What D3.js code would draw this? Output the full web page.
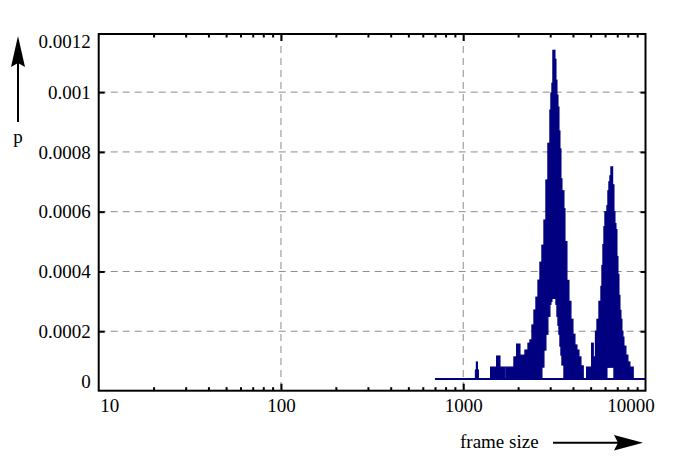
<!DOCTYPE html>
<html>
<head>
<meta charset="utf-8">
<script src="https://cdn.jsdelivr.net/npm/d3@7"></script>
<style>
  html, body { margin: 0; padding: 0; background: #fff; }
  svg { display: block; }
  text { font-family: "Liberation Serif", "DejaVu Serif", serif; }
</style>
</head>
<body>
<svg id="chart" width="698" height="461"></svg>
<script>
// ---- data ----
// frame-size bin edges (bytes); bin i spans binEdges[i] .. binEdges[i+1]
const binEdges = [1167, 1181, 1196, 1211, 1413, 1525, 1590, 1693, 1715, 1897,
  1963, 2047, 2180, 2265, 2322, 2382, 2443, 2505, 2570, 2635,
  2702, 2772, 2842, 2914, 2989, 3027, 3066, 3104, 3184, 3225,
  3266, 3308, 3350, 3392, 3435, 3479, 3568, 3614, 3706, 3801,
  3898, 3998, 4100, 4205, 4313, 4423, 4553, 4753, 5064, 5168,
  5314, 5415, 5553, 5694, 5767, 5840, 5915, 5990, 6066, 6143,
  6220, 6299, 6379, 6460, 6600, 6711, 6796, 6883, 6968, 7057,
  7147, 7237, 7330, 7421, 7516, 7611, 7806, 8005, 8210, 8561];
// upper envelope of p in each bin
const pHigh = [0.00007, 0.000097, 0.00007, 0.00004, 0.00008, 0.000117, 0.00008, 0.00004, 0.00008, 0.000114,
  0.000157, 0.00012, 0.000137, 0.00016, 0.000171, 0.000221, 0.000271, 0.000314, 0.000371, 0.000431,
  0.000488, 0.000572, 0.000706, 0.000829, 0.00094, 0.000997, 0.00103, 0.00114, 0.00111, 0.00104,
  0.00099, 0.00095, 0.00087, 0.00081, 0.00071, 0.00067, 0.00061, 0.0005, 0.00037, 0.0003,
  0.00024, 0.00019, 0.000154, 0.000137, 0.000114, 0.000084, 0.00004, 0.00008, 0.00016, 0.000114,
  0.0002, 0.00024, 0.0003, 0.00035, 0.00042, 0.00049, 0.00055, 0.0006, 0.0006, 0.00062,
  0.00067, 0.0007, 0.00072, 0.00075, 0.00069, 0.0006, 0.00056, 0.00054, 0.00045, 0.00039,
  0.00032, 0.00027, 0.00024, 0.0002, 0.00018, 0.00015, 0.00012, 0.000097, 0.00008];
// lower envelope of p in each bin
const pLow = [0.00004, 0.00004, 0.00004, 0.00004, 0.00004, 0.00004, 0.00004, 0.00004, 0.00004, 0.00004,
  0.00004, 0.00004, 0.00004, 0.00004, 0.00004, 0.00004, 0.00004, 0.00004, 0.00004, 0.00004,
  0.00008, 0.000137, 0.00019, 0.00025, 0.00029, 0.0003, 0.00031, 0.00031, 0.00031, 0.00029,
  0.00025, 0.00022, 0.00019, 0.00015, 0.00012, 0.000087, 0.00004, 0.00004, 0.00004, 0.00004,
  0.00004, 0.00004, 0.00004, 0.00004, 0.00004, 0.00004, 0.00004, 0.00004, 0.00004, 0.00004,
  0.00004, 0.00004, 0.00004, 0.00004, 0.00004, 0.00004, 0.00004, 0.00004, 0.00004, 0.00008,
  0.00008, 0.00008, 0.00008, 0.00008, 0.00008, 0.00004, 0.00004, 0.00004, 0.00004, 0.00004,
  0.00004, 0.00004, 0.00004, 0.00004, 0.00004, 0.00004, 0.00004, 0.00004, 0.00004];
// floor level (single occurrence) spanning the observed frame sizes
const floorP = 0.00004;
const floorRange = [700, 10000];

const xMajorTicks = [10, 100, 1000, 10000];
const xTickLabels = ["10", "100", "1000", "10000"];
const xMinorTicks = [20,30,40,50,60,70,80,90,200,300,400,500,600,700,800,900,
  2000,3000,4000,5000,6000,7000,8000,9000];
const xGridTicks = [100, 1000];
const yTicks = [0, 0.0002, 0.0004, 0.0006, 0.0008, 0.001, 0.0012];
const yTickLabels = ["0", "0.0002", "0.0004", "0.0006", "0.0008", "0.001", "0.0012"];
const yGridTicks = [0.0002, 0.0004, 0.0006, 0.0008, 0.001];
const xLabel = "frame size";
const yLabel = "p";

// ---- layout ----
const L = 98.7, R = 645.5, T = 34, B = 390.7;
const svg = d3.select("#chart");
const x = d3.scaleLog().domain([10, 10000]).range([L, R]);
const y = d3.scaleLinear().domain([0, 0.0011946]).range([391, T]);
const navy = "#000080";
const fontSize = 19;

// grid
svg.append("g").selectAll("line.gx").data(xGridTicks).join("line")
  .attr("x1", d => x(d)).attr("x2", d => x(d)).attr("y1", T).attr("y2", B)
  .attr("stroke", "#8c8c8c").attr("stroke-width", 1).attr("stroke-dasharray", "7,5");
svg.append("g").selectAll("line.gy").data(yGridTicks).join("line")
  .attr("x1", L).attr("x2", R).attr("y1", d => y(d)).attr("y2", d => y(d))
  .attr("stroke", "#8c8c8c").attr("stroke-width", 1).attr("stroke-dasharray", "7,5");

// data
svg.append("clipPath").attr("id", "clip").append("rect")
  .attr("x", L).attr("y", T).attr("width", R - L).attr("height", B - T);
const plot = svg.append("g").attr("clip-path", "url(#clip)");
plot.append("path")
  .attr("d", d3.line().x(d => x(d)).y(() => y(floorP))(floorRange))
  .attr("stroke", navy).attr("stroke-width", 2).attr("fill", "none");
const bins = pHigh.map((h, i) => ({ x0: binEdges[i], x1: binEdges[i + 1], hi: h, lo: pLow[i] }))
  .filter(b => b.hi > b.lo);
plot.selectAll("rect.bin").data(bins).join("rect")
  .attr("x", d => x(d.x0)).attr("width", d => x(d.x1) - x(d.x0))
  .attr("y", d => y(d.hi)).attr("height", d => y(d.lo) - y(d.hi))
  .attr("fill", navy).attr("stroke", navy).attr("stroke-width", 1.2)
  .attr("stroke-linejoin", "miter");

// axes
function styleAxis(g) {
  g.select(".domain").remove();
  g.selectAll(".tick line").attr("stroke", "#000").attr("stroke-width", 2);
  g.selectAll(".tick text").attr("font-size", fontSize).attr("fill", "#000")
    .attr("font-family", '"Liberation Serif", serif');
}
// bottom major with labels
const gb = svg.append("g").attr("transform", `translate(0,${B})`)
  .call(d3.axisBottom(x).tickValues(xMajorTicks).tickSize(-7).tickPadding(8)
    .tickFormat((d, i) => xTickLabels[i]))
  .call(styleAxis);
gb.selectAll(".tick").filter(d => d === 10).select("text").attr("text-anchor", "start").attr("x", 1);
gb.selectAll(".tick").filter(d => d === 10000).select("text").attr("x", -15);
gb.selectAll(".tick").filter(d => d === 10 || d === 10000).select("line").remove();
// bottom minor
svg.append("g").attr("transform", `translate(0,${B})`)
  .call(d3.axisBottom(x).tickValues(xMinorTicks).tickSize(-3.5).tickFormat(""))
  .call(styleAxis);
// top major/minor
const gt = svg.append("g").attr("transform", `translate(0,${T})`)
  .call(d3.axisTop(x).tickValues(xMajorTicks).tickSize(-7).tickFormat(""))
  .call(styleAxis);
gt.selectAll(".tick").filter(d => d === 10 || d === 10000).remove();
svg.append("g").attr("transform", `translate(0,${T})`)
  .call(d3.axisTop(x).tickValues(xMinorTicks).tickSize(-3.5).tickFormat(""))
  .call(styleAxis);
// left
const gl = svg.append("g").attr("transform", `translate(${L},0)`)
  .call(d3.axisLeft(y).tickValues(yTicks).tickSize(-6).tickPadding(8)
    .tickFormat((d, i) => yTickLabels[i]))
  .call(styleAxis);
gl.selectAll(".tick").filter(d => d === 0 || d === 0.0012).select("line").remove();
gl.selectAll(".tick").filter(d => d === 0).select("text").attr("y", -10);
gl.selectAll(".tick").filter(d => d === 0.0012).select("text").attr("y", 9.5);
// right
svg.append("g").attr("transform", `translate(${R},0)`)
  .call(d3.axisRight(y).tickValues(yGridTicks).tickSize(-5).tickFormat(""))
  .call(styleAxis);

// frame
svg.append("rect").attr("x", L).attr("y", T).attr("width", R - L).attr("height", B - T)
  .attr("fill", "none").attr("stroke", "#000").attr("stroke-width", 2);

// axis labels with arrows
svg.append("line").attr("x1", 18).attr("x2", 18).attr("y1", 122).attr("y2", 60)
  .attr("stroke", "#000").attr("stroke-width", 2);
svg.append("path").attr("d", "M18,36 L25,67 L18,63 L11,67 Z").attr("fill", "#000");
svg.append("text").attr("x", 18).attr("y", 143).attr("text-anchor", "middle")
  .attr("font-size", fontSize).text(yLabel);

svg.append("text").attr("x", 460).attr("y", 448).attr("font-size", fontSize).text(xLabel);
svg.append("line").attr("x1", 553).attr("x2", 620).attr("y1", 442.7).attr("y2", 442.7)
  .attr("stroke", "#000").attr("stroke-width", 2);
svg.append("path").attr("d", "M643,442.7 L614,435 L618,442.7 L614,450.4 Z").attr("fill", "#000");
</script>
</body>
</html>
